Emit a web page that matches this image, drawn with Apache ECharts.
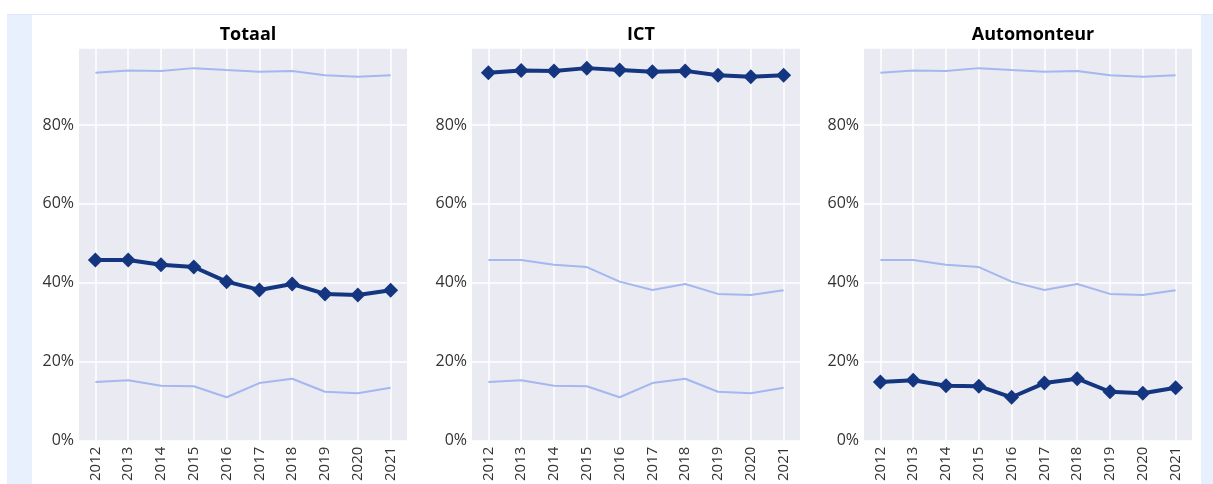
<!DOCTYPE html>
<html>
<head>
<meta charset="utf-8">
<script src="https://cdn.jsdelivr.net/npm/echarts@6/dist/echarts.min.js"></script>
<style>
  html, body { margin: 0; padding: 0; background: #fff; overflow: hidden; }
  .frame {
    position: absolute; left: 7px; top: 14px; width: 1206px; height: 470px;
    background: #e8f0fe; border-top: 1px solid #dfe8f8;
  }
  .panel {
    position: absolute; left: 32px; top: 15px; width: 1169px; height: 469px; background: #fff;
  }
  #chart { position: absolute; left: 0; top: 0; width: 1213px; height: 484px; }
</style>
</head>
<body>
<div class="frame"></div>
<div class="panel"></div>
<div id="chart"></div>
<script>
// jaren
const years = ['2012', '2013', '2014', '2015', '2016', '2017', '2018', '2019', '2020', '2021'];
// aandeel per opleiding (%)
const totaal = [45.8, 45.8, 44.6, 44.0, 40.3, 38.2, 39.7, 37.2, 36.9, 38.1];
const ict = [93.2, 93.8, 93.7, 94.4, 93.9, 93.5, 93.7, 92.6, 92.2, 92.6];
const automonteur = [14.9, 15.3, 13.9, 13.8, 11.0, 14.6, 15.7, 12.4, 12.0, 13.4];
const yTicks = [0, 20, 40, 60, 80];

const panels = [
  { title: 'Totaal', data: totaal },
  { title: 'ICT', data: ict },
  { title: 'Automonteur', data: automonteur },
];
const allSeries = [totaal, ict, automonteur];

const font = 'Open Sans, Noto Sans, sans-serif';
const dark = '#14357f';
const light = '#a4b7ee';
const lefts = [79, 472, 864];
const plotW = 328, plotTop = 48, plotH = 393;

const grid = [], xAxis = [], yAxis = [], series = [], title = [];

panels.forEach((p, i) => {
  grid.push({
    left: lefts[i], top: plotTop, width: plotW, height: plotH,
    show: true, backgroundColor: '#eaeaf2', borderWidth: 0
  });
  title.push({
    text: p.title, left: lefts[i] + plotW / 2, top: 21, textAlign: 'center',
    textStyle: { fontFamily: font, fontSize: 18, fontWeight: 'bold', color: '#000' }
  });
  xAxis.push({
    type: 'category', gridIndex: i, data: years, boundaryGap: true,
    axisLine: { show: false },
    axisTick: {
      show: true, alignWithLabel: true, inside: true, length: plotH,
      lineStyle: { color: '#fff', width: 1.5 }
    },
    splitLine: { show: false },
    axisLabel: { rotate: 90, margin: 6, fontFamily: font, fontSize: 15, color: '#333', interval: 0 }
  });
  yAxis.push({
    type: 'value', gridIndex: i, min: 0, max: 99.5, interval: 20,
    axisLine: { show: false }, axisTick: { show: false },
    splitLine: { lineStyle: { color: '#fff', width: 1.5 } },
    axisLabel: {
      margin: 5, fontFamily: font, fontSize: 16, color: '#333',
      formatter: v => yTicks.includes(v) ? v + '%' : ''
    }
  });
  allSeries.forEach(d => {
    if (d === p.data) return;
    series.push({
      type: 'line', xAxisIndex: i, yAxisIndex: i, data: d,
      symbol: 'none', lineStyle: { color: light, width: 2 }, z: 2, silent: true
    });
  });
  series.push({
    type: 'line', xAxisIndex: i, yAxisIndex: i, data: p.data,
    symbol: 'diamond', symbolSize: 15, itemStyle: { color: dark },
    lineStyle: { color: dark, width: 4 }, z: 3, silent: true
  });
});

const chart = echarts.init(document.getElementById('chart'), null, { renderer: 'canvas' });
chart.setOption({
  animation: false,
  backgroundColor: 'transparent',
  title, grid, xAxis, yAxis, series
});
</script>
</body>
</html>
